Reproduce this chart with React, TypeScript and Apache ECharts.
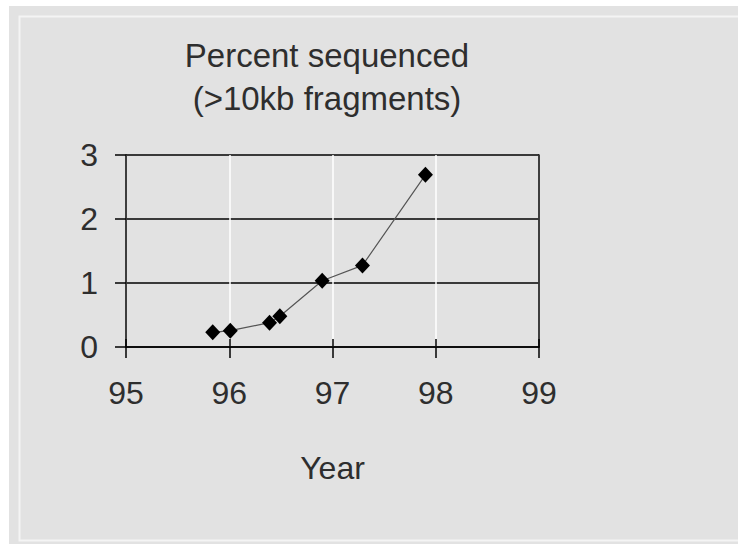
import React, { useEffect, useRef } from "react";
import * as echarts from "echarts";

const years = [95.84, 96.01, 96.39, 96.49, 96.9, 97.29, 97.9];
const percents = [0.23, 0.255, 0.38, 0.48, 1.035, 1.275, 2.69];
const titleLines = ["Percent sequenced", "(>10kb fragments)"];
const xAxisName = "Year";

const FONT = '"Liberation Sans", Arial, sans-serif';
const TEXT = "#2e2e2e";
const BG = "#e2e2e2";

export default function App() {
  const ref = useRef<HTMLDivElement>(null);
  useEffect(() => {
    if (!ref.current) return;
    const chart = echarts.init(ref.current, undefined, { renderer: "svg" });
    const data = years.map((y, i) => [y, percents[i]]);
    chart.setOption({
      animation: false,
      backgroundColor: "#ffffff",
      graphic: [
        { type: "rect", z: -10, shape: { x: 9, y: 6, width: 740, height: 540 }, style: { fill: BG } },
        {
          type: "rect",
          z: -9,
          shape: { x: 19.5, y: 16.5, width: 740, height: 524 },
          style: { fill: "none", stroke: "#f4f4f4", lineWidth: 2 },
        },
        {
          type: "text",
          x: 327,
          y: 55,
          style: { text: titleLines[0], textAlign: "center", textVerticalAlign: "middle", font: `33px ${FONT}`, fill: TEXT },
        },
        {
          type: "text",
          x: 327,
          y: 98,
          style: { text: titleLines[1], textAlign: "center", textVerticalAlign: "middle", font: `33px ${FONT}`, fill: TEXT },
        },
      ],
      grid: { left: 126, right: 199, top: 155, bottom: 197, containLabel: false },
      xAxis: [
        {
          type: "value",
          min: 95,
          max: 99,
          interval: 1,
          name: xAxisName,
          nameLocation: "middle",
          nameGap: 105,
          nameTextStyle: { fontFamily: FONT, fontSize: 32, color: TEXT },
          axisLine: { show: true, onZero: false, lineStyle: { color: "#000", width: 1.5 } },
          axisTick: { show: true, inside: false, length: 11, lineStyle: { color: "#000", width: 1.5 } },
          axisLabel: { fontFamily: FONT, fontSize: 32, color: TEXT, margin: 30 },
          splitLine: { show: true, lineStyle: { color: "#ffffff", width: 1.5 } },
        },
        {
          type: "value",
          min: 95,
          max: 99,
          interval: 1,
          position: "bottom",
          axisLine: { show: false },
          axisTick: { show: true, inside: true, length: 8, lineStyle: { color: "#000", width: 1.5 } },
          axisLabel: { show: false },
          splitLine: { show: false },
        },
      ],
      yAxis: [
        {
          type: "value",
          min: 0,
          max: 3,
          interval: 1,
          axisLine: { show: true, onZero: false, lineStyle: { color: "#000", width: 1.5 } },
          axisTick: { show: true, inside: false, length: 11, lineStyle: { color: "#000", width: 1.5 } },
          axisLabel: { fontFamily: FONT, fontSize: 32, color: TEXT, margin: 28 },
          splitLine: { show: true, lineStyle: { color: "#000", width: 1.5 } },
        },
        {
          type: "value",
          min: 0,
          max: 3,
          interval: 1,
          position: "right",
          axisLine: { show: true, onZero: false, lineStyle: { color: "#000", width: 1.5 } },
          axisTick: { show: false },
          axisLabel: { show: false },
          splitLine: { show: false },
        },
      ],
      series: [
        {
          type: "line",
          data,
          symbol: "diamond",
          symbolSize: [15, 16],
          itemStyle: { color: "#000" },
          lineStyle: { color: "#555", width: 1.2 },
          z: 5,
        },
      ],
    });
    return () => chart.dispose();
  }, []);
  return <div ref={ref} style={{ position: "absolute", left: 0, top: 0, width: 738, height: 544 }} />;
}
